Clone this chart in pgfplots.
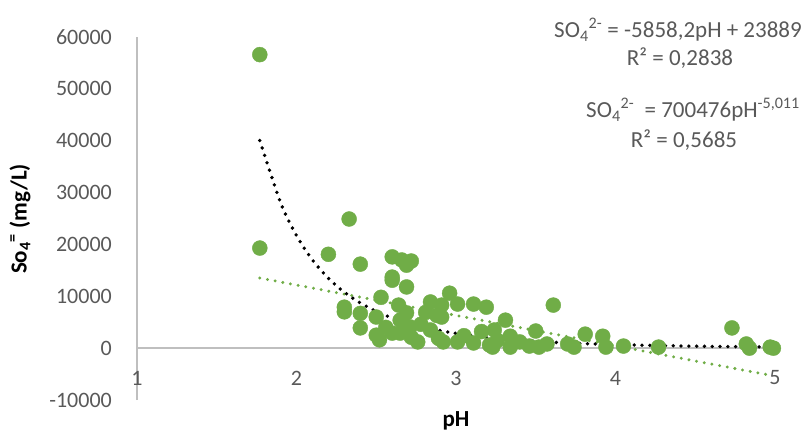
\documentclass[border=0pt]{standalone}
\usepackage{fontspec}
\setmainfont{Carlito}
\usepackage{pgfplots}
\pgfplotsset{compat=1.18}
\definecolor{grn}{HTML}{70AD47}
\definecolor{txt}{HTML}{595959}
\definecolor{axl}{HTML}{BFBFBF}
\begin{document}
\begin{tikzpicture}
\path[use as bounding box] (-137pt,-32pt) rectangle (669pt,400pt);
\begin{axis}[
  at={(0pt,0pt)}, anchor=south west,
  scale only axis, width=638pt, height=363pt,
  xmin=1, xmax=5, ymin=-10000, ymax=60000,
  axis y line*=left, axis x line*=bottom,
  y axis line style={draw=axl, line width=1.3pt},
  x axis line style={draw=none},
  major tick length=0pt,
  scaled y ticks=false, scaled x ticks=false,
  xtick={1,2,3,4,5}, xticklabels={1,2,3,4,5},
  ytick={-10000,0,10000,20000,30000,40000,50000,60000},
  yticklabels={-10000,0,10000,20000,30000,40000,50000,60000},
  extra y ticks={0}, extra y tick labels={},
  extra y tick style={grid=major, major grid style={draw=axl, line width=1.3pt}},
  tick label style={font=\fontsize{22}{26}\selectfont, text=txt, inner sep=0pt},
  yticklabel style={anchor=east, xshift=-25pt},
  xticklabel style={anchor=center, yshift=22pt},
  xlabel={pH},
  label style={font=\bfseries\fontsize{23}{27}\selectfont, text=black},
  xlabel style={at={(rel axis cs:0.5,0)}, anchor=center, yshift=-21pt},
  clip=false,
]
\addplot[only marks, mark=*, mark size=7.5pt, mark options={fill=grn, draw=grn}] coordinates {
(1.77,56600) (1.77,19300) (2.20,18100) (2.33,24900) (2.40,16200)
(2.60,17600) (2.66,17000) (2.72,16800) (2.69,16000) (2.60,13700) (2.60,13100)
(2.69,11800) (2.53,9800) (2.30,7900) (2.30,7000) (2.40,6700) (2.40,3900)
(2.50,6000) (2.50,2500) (2.52,1600) (2.64,8300) (2.65,5400) (2.60,2900)
(2.69,6800) (2.71,4100) (2.76,1200) (2.84,8900) (2.81,6900) (2.91,8300)
(2.91,6000) (2.96,10600) (3.01,8500) (3.11,8500) (3.19,7900) (2.84,3500)
(2.89,1900) (2.92,1200) (3.01,1200) (3.11,1000) (3.21,600) (2.72,2100)
(2.65,2900) (3.31,5400) (3.61,8300) (3.24,3500) (3.23,200) (3.34,2300)
(3.34,200) (3.40,1200) (3.46,400) (3.50,3300) (3.52,200) (3.57,800)
(3.70,800) (3.74,200) (3.81,2700) (3.92,2300) (3.94,200) (4.05,400)
(4.27,200) (4.73,3900) (4.82,800) (4.84,0) (4.97,200) (4.99,0) (3.26,1500)
(2.56,4000) (2.78,4600) (2.88,6300) (3.05,2400) (3.16,3200)
};
\addplot[grn, line width=3.3pt, line cap=round, dash pattern=on 0pt off 7.8pt] coordinates {
(1.77,13520) (4.97,-5226)
};
\addplot[black, line width=3.8pt, line cap=round, dash pattern=on 0pt off 7.8pt, smooth] coordinates {
(1.77,40047) (1.9,28082) (2.0,21716) (2.1,17008) (2.2,13475) (2.3,10787)
(2.4,8714) (2.5,7101) (2.6,5836) (2.8,4027) (3.0,2850) (3.25,1908)
(3.5,1316) (3.75,932) (4.0,674) (4.5,373) (4.97,227)
};
\end{axis}
\node[rotate=90, font=\bfseries\fontsize{23}{27}\selectfont, inner sep=0pt] at (-117pt,181pt) {So\textsubscript{4}\textsuperscript{=} (mg/L)};
\begin{scope}[every node/.style={text=txt, font=\fontsize{23}{27}\selectfont, inner sep=0pt}]
\node at (541pt,370pt) {SO\textsubscript{4}\textsuperscript{2-} = -5858,2pH + 23889};
\node at (543pt,342pt) {R² = 0,2838};
\node at (556pt,290pt) {SO\textsubscript{4}\textsuperscript{2-}\ \ = 700476pH\textsuperscript{-5,011}};
\node at (547pt,260pt) {R² = 0,5685};
\end{scope}
\end{tikzpicture}
\end{document}
